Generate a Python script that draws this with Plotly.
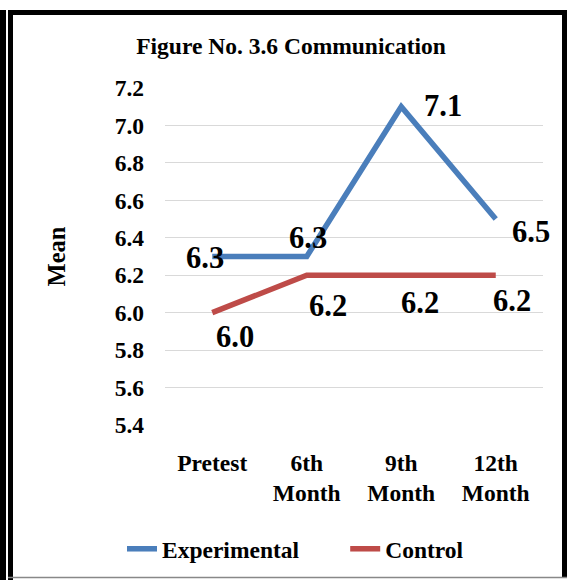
import plotly.graph_objects as go

# Survey waves and mean communication scores
categories = ["Pretest", "6th<br>Month", "9th<br>Month", "12th<br>Month"]
experimental = [6.3, 6.3, 7.1, 6.5]
control = [6.0, 6.2, 6.2, 6.2]
y_ticks = [5.4, 5.6, 5.8, 6.0, 6.2, 6.4, 6.6, 6.8, 7.0, 7.2]

# Label offsets (pixels) for each data label
exp_shift = [(-7, -1), (1, 19), (42, 1), (35, -13)]
ctl_shift = [(23, -24), (21, -31), (19, -28), (16, -26)]

W, H = 571, 580
L, R, T, B = 165, 543, 88, 425  # plot area in pixels

FONT = "Liberation Serif"
BLUE = "#4A7EBB"
RED = "#BE4B48"
GAP = "\u00a0" * 7  # extra room between the two legend entries


def px(x):
    return (x - L) / (R - L)


def py(y):
    return (B - y) / (B - T)


fig = go.Figure()
fig.add_trace(go.Scatter(
    x=categories, y=experimental, mode="lines",
    name="<b>Experimental</b>" + GAP,
    line=dict(color=BLUE, width=5.5),
))
fig.add_trace(go.Scatter(
    x=categories, y=control, mode="lines", name="<b>Control</b>",
    line=dict(color=RED, width=5.5),
))

annotations = []
for series, shifts in ((experimental, exp_shift), (control, ctl_shift)):
    for cat, val, (dx, dy) in zip(categories, series, shifts):
        annotations.append(dict(
            x=cat, y=val, xref="x", yref="y", text=f"<b>{val:.1f}</b>",
            showarrow=False, xshift=dx, yshift=dy,
            font=dict(family=FONT, size=30.5, color="black"),
        ))

# Frame around the chart
shapes = [
    dict(type="line", xref="paper", yref="paper",
         x0=px(10.5), x1=px(10.5), y0=py(10), y1=py(580),
         line=dict(color="black", width=5)),
    dict(type="line", xref="paper", yref="paper",
         x0=px(8), x1=px(567), y0=py(12.5), y1=py(12.5),
         line=dict(color="black", width=5)),
    dict(type="line", xref="paper", yref="paper",
         x0=px(564.5), x1=px(564.5), y0=py(10), y1=py(577),
         line=dict(color="black", width=5)),
    dict(type="line", xref="paper", yref="paper",
         x0=px(8), x1=px(567), y0=py(577.5), y1=py(577.5),
         line=dict(color="#888888", width=1.5)),
    dict(type="line", xref="paper", yref="paper",
         x0=px(3), x1=px(3), y0=py(10), y1=py(580),
         line=dict(color="black", width=6)),
    dict(type="line", xref="paper", yref="paper",
         x0=px(0), x1=px(6), y0=py(12.5), y1=py(12.5),
         line=dict(color="black", width=5)),
]

fig.update_layout(
    width=W, height=H,
    margin=dict(l=L, r=W - R, t=T, b=H - B, autoexpand=False),
    paper_bgcolor="white", plot_bgcolor="white",
    font=dict(family=FONT, color="black"),
    title=dict(
        text="<b>Figure No. 3.6 Communication</b>",
        x=291 / W, xanchor="center", xref="container",
        y=1 - 46 / H, yanchor="middle",
        font=dict(family=FONT, size=23.5, color="black"),
    ),
    xaxis=dict(
        type="category", range=[-0.5, 3.5],
        showgrid=False, showline=False, zeroline=False,
        ticks="", ticklabelstandoff=21,
        tickfont=dict(family=FONT, size=23.5, color="black"),
        tickvals=categories,
        ticktext=[f"<b>{c}</b>" for c in categories],
    ),
    yaxis=dict(
        range=[5.4, 7.2], tickvals=y_ticks,
        ticktext=[f"<b>{v:.1f}</b>" for v in y_ticks],
        showgrid=True, gridcolor="#D9D9D9", gridwidth=1,
        showline=False, zeroline=False,
        ticks="", ticklabelstandoff=20,
        tickfont=dict(family=FONT, size=23.5, color="black"),
        title=dict(text="<b>Mean</b>", standoff=42,
                   font=dict(family=FONT, size=24.5, color="black")),
    ),
    legend=dict(
        orientation="h", x=122 / W, xref="container", xanchor="left",
        y=1 - 549 / H, yref="container", yanchor="middle",
        font=dict(family=FONT, size=23.5, color="black"),
        itemwidth=30, traceorder="normal",
    ),
    annotations=annotations,
    shapes=shapes,
    showlegend=True,
)

fig.write_html("out.html")
